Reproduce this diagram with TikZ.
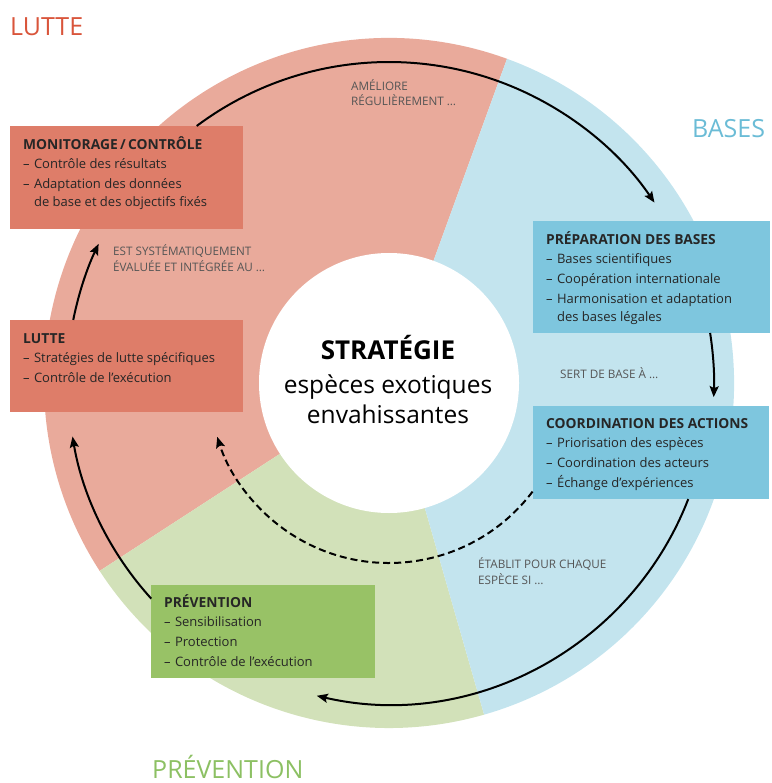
\documentclass[tikz,border=0pt]{standalone}
\usepackage{fontspec}
\setmainfont{Open Sans}
\usetikzlibrary{arrows.meta,calc}
\definecolor{ringpink}{HTML}{E9AA9B}
\definecolor{ringblue}{HTML}{C3E4EE}
\definecolor{ringgreen}{HTML}{D2E1B9}
\definecolor{boxpink}{HTML}{DE7D69}
\definecolor{boxblue}{HTML}{7EC6DE}
\definecolor{boxgreen}{HTML}{98C266}
\definecolor{tred}{HTML}{D9553B}
\definecolor{tblue}{HTML}{6BBCD6}
\definecolor{tgreen}{HTML}{8CC063}
\definecolor{lblgrey}{HTML}{555555}
\newcommand{\bxtitle}[1]{\rule{0pt}{13pt}{\fontsize{13.8}{18}\bfseries #1}}
\newcommand{\itm}{\\[2pt]--\,\,}
\newcommand{\cont}{\\\phantom{--\,\,}}
\begin{document}
\begin{tikzpicture}[x=1pt,y=1pt,
  boxst/.style={anchor=north west,inner sep=0pt,draw=none},
  txt/.style={anchor=north west,inner sep=0pt,align=left,font=\fontsize{13}{18}\selectfont,text=black!85},
  lbl/.style={anchor=base west,inner sep=0pt,align=left,font=\fontsize{11.7}{15.5}\selectfont,text=lblgrey},
  big/.style={anchor=base west,inner sep=0pt,font=\fontsize{25}{30}\selectfont},
  arr/.style={line width=2pt,-{Stealth[length=11pt,width=9pt,inset=2pt]}},
  darr/.style={arr,dash pattern=on 7pt off 4pt}]
\useasboundingbox (0,0) rectangle (771,-783);
\coordinate (c) at (389,-383);
% ring sectors
\fill[ringpink] (c) -- ++(70:345) arc[start angle=70,end angle=213,radius=345] -- cycle;
\fill[ringgreen] (c) -- ++(213:345) arc[start angle=213,end angle=286,radius=345] -- cycle;
\fill[ringblue] (c) -- ++(286:345) arc[start angle=286,end angle=430,radius=345] -- cycle;
\node[circle,fill=white,minimum size=260pt,inner sep=0pt] (core) at (c) {};
% centre text
\node[anchor=base,inner sep=0pt,font=\fontsize{26}{30}\selectfont\bfseries] (strat) at (388,-359) {STRATÉGIE};
\node[anchor=base,inner sep=0pt,font=\fontsize{24.5}{30}\selectfont] (esp) at (388,-393) {espèces exotiques};
\node[anchor=base,inner sep=0pt,font=\fontsize{24.5}{30}\selectfont] (env) at (388,-423) {envahissantes};
% section titles
\node[big,text=tred] (tlutte) at (10,-36) {LUTTE};
\node[big,text=tblue] (tbases) at (692,-138) {BASES};
\node[big,text=tgreen] (tprev) at (152,-778) {PRÉVENTION};
% boxes
\node[boxst,fill=boxpink,minimum width=233pt,minimum height=103pt] (mon) at (10,-126) {};
\node[boxst,fill=boxpink,minimum width=233pt,minimum height=92pt] (lut) at (10,-320) {};
\node[boxst,fill=boxblue,minimum width=237pt,minimum height=112pt] (prep) at (533,-221) {};
\node[boxst,fill=boxblue,minimum width=236pt,minimum height=93pt] (coord) at (533,-406) {};
\node[boxst,fill=boxgreen,minimum width=224pt,minimum height=93pt] (prev) at (151,-585) {};
% box texts
\node[txt] (mont) at ([shift={(13,-10)}]mon.north west)
  {\bxtitle{MONITORAGE\,/\,CONTRÔLE}\\[1pt]--\,\,Contrôle des résultats\itm Adaptation des données\cont de base et des objectifs fixés};
\node[txt] (lutt) at ([shift={(13,-10)}]lut.north west)
  {\bxtitle{LUTTE}\\[1pt]--\,\,Stratégies de lutte spécifiques\itm Contrôle de l’exécution};
\node[txt] (prept) at ([shift={(13,-10)}]prep.north west)
  {\bxtitle{PRÉPARATION DES BASES}\\[1pt]--\,\,Bases scientifiques\itm Coopération internationale\itm Harmonisation et adaptation\cont des bases légales};
\node[txt] (coordt) at ([shift={(13,-9)}]coord.north west)
  {\bxtitle{COORDINATION DES ACTIONS}\\[1pt]--\,\,Priorisation des espèces\itm Coordination des acteurs\itm Échange d’expériences};
\node[txt] (prevt) at ([shift={(13,-9)}]prev.north west)
  {\bxtitle{PRÉVENTION}\\[1pt]--\,\,Sensibilisation\itm Protection\itm Contrôle de l’exécution};
% ring labels
\node[lbl] (l1) at (351,-106) {AMÉLIORE\\RÉGULIÈREMENT …};
\node[lbl] (l2) at (113,-271) {EST SYSTÉMATIQUEMENT\\ÉVALUÉE ET INTÉGRÉE AU …};
\node[lbl] (l3) at (560,-378) {SERT DE BASE À …};
\node[lbl] (l4) at (478,-584) {ÉTABLIT POUR CHAQUE\\ESPÈCE SI …};
% connector end points
\coordinate (a1s) at ($(c)+(126.8:321)$);
\coordinate (a2s) at ($(c)+(8.85:325)$);
\coordinate (a3s) at ($(c)+(-21.2:321)$);
\coordinate (a4s) at ($(c)+(222.2:321)$);
\coordinate (a5s) at ($(c)+(168.7:322)$);
\coordinate (a6s) at ($(c)+(-37.1:180)$);
% connectors
\draw[arr] (a1s) arc[start angle=126.8,end angle=34.2,radius=321];
\draw[arr] (a2s) arc[start angle=8.85,end angle=-2.5,radius=325];
\draw[arr] (a3s) arc[start angle=-21.2,end angle=-103,radius=321];
\draw[arr] (a4s) arc[start angle=222.2,end angle=189.6,radius=321];
\draw[arr] (a5s) arc[start angle=168.7,end angle=154.4,radius=322];
\draw[darr] (a6s) arc[start angle=-37.1,end angle=-162.6,radius=180];
\end{tikzpicture}
\end{document}
